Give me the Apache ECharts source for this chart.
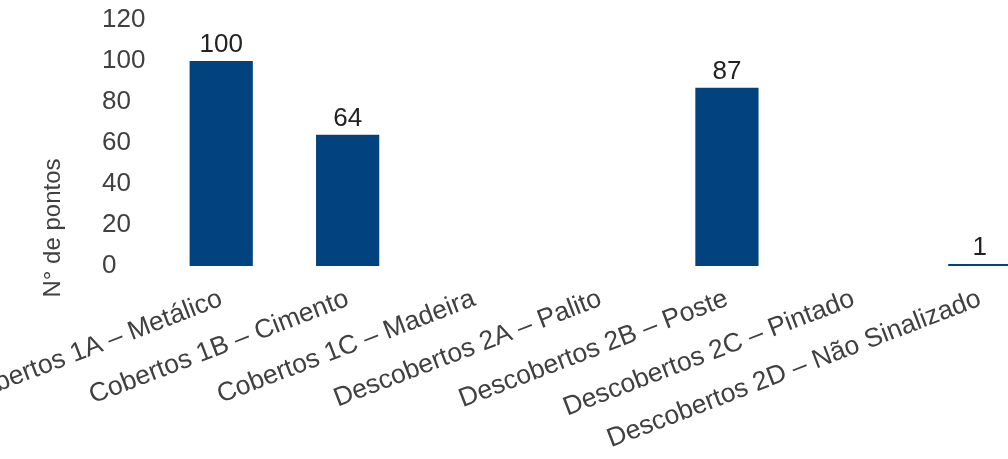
<!DOCTYPE html>
<html>
<head>
<meta charset="utf-8">
<script src="https://cdn.jsdelivr.net/npm/echarts@6/dist/echarts.min.js"></script>
<style>html,body{margin:0;padding:0;background:#fff}#c{width:1008px;height:459px}</style>
</head>
<body>
<div id="c"></div>
<script>
const categories = ["Cobertos 1A – Metálico", "Cobertos 1B – Cimento", "Cobertos 1C – Madeira", "Descobertos 2A – Palito", "Descobertos 2B – Poste", "Descobertos 2C – Pintado", "Descobertos 2D – Não Sinalizado"];
const values = [100, 64, 0, 0, 87, 0, 1];
const yTicks = { min: 0, max: 120, interval: 20 };
const yName = "N° de pontos";

const chart = echarts.init(document.getElementById('c'), null, { renderer: 'canvas' });
const font = 'Liberation Sans, Arial, sans-serif';
chart.setOption({
  animation: false,
  grid: { left: 158, top: 20, height: 246, width: 885, containLabel: false, outerBoundsMode: 'none' },
  xAxis: {
    type: 'category',
    data: categories,
    axisLine: { show: false },
    axisTick: { show: false },
    axisLabel: { rotate: 21, margin: 32, fontSize: 26.5, fontFamily: font, color: '#404040', interval: 0 }
  },
  yAxis: {
    type: 'value',
    min: yTicks.min, max: yTicks.max, interval: yTicks.interval,
    axisLine: { show: false },
    axisTick: { show: false },
    splitLine: { show: false },
    axisLabel: { align: 'left', margin: 56, fontSize: 26, fontFamily: font, color: '#404040' }
  },
  graphic: [{
    type: 'text',
    x: 53, y: 228,
    rotation: Math.PI / 2,
    style: { text: yName, font: '24px ' + font, fill: '#404040', align: 'center', verticalAlign: 'middle' }
  }],
  series: [{
    type: 'bar',
    data: values,
    barWidth: '50%',
    itemStyle: { color: '#02437F' },
    label: {
      show: true, position: 'top', distance: 3, fontSize: 26, fontFamily: font, color: '#222',
      formatter: p => p.value === 0 ? '' : String(p.value)
    }
  }]
});
</script>
</body>
</html>
